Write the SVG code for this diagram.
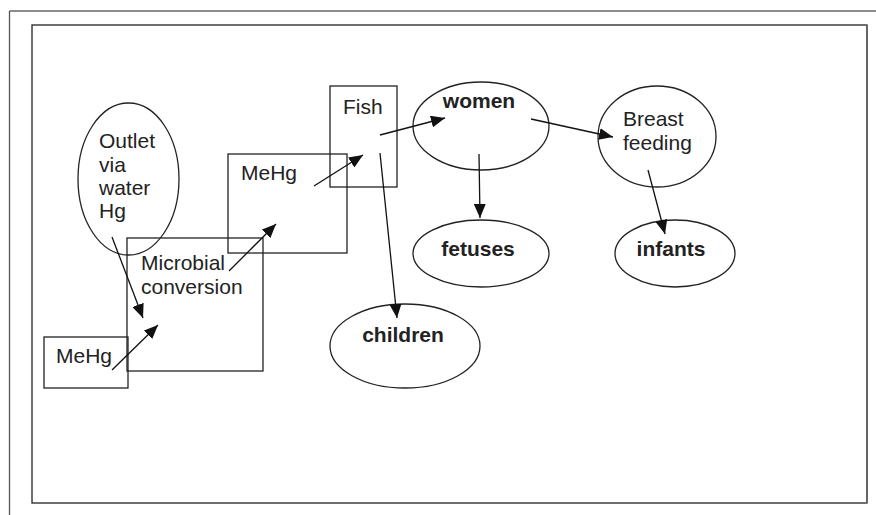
<svg xmlns="http://www.w3.org/2000/svg" width="876" height="515" viewBox="0 0 876 515">
  <defs>
    <marker id="arrow" viewBox="0 0 14 12" refX="14" refY="6" markerWidth="14" markerHeight="12" markerUnits="userSpaceOnUse" orient="auto">
      <path d="M0,0 L14,6 L0,12 Z" fill="#111"/>
    </marker>
  </defs>
  <style>
    .shape { fill: none; stroke: #222; stroke-width: 1.3; }
    .lbl { font-family: "Liberation Sans", Arial, sans-serif; font-size: 21px; fill: #222; }
    .bold { font-weight: bold; text-anchor: middle; }
    .conn line { stroke: #111; stroke-width: 1.3; marker-end: url(#arrow); }
  </style>
  <rect width="876" height="515" fill="#fff"/>

  <!-- page frame -->
  <g id="frame">
    <line x1="9.5" y1="11" x2="876" y2="11" stroke="#666" stroke-width="1.5"/>
    <line x1="9.5" y1="11" x2="9.5" y2="515" stroke="#555" stroke-width="1.3"/>
    <rect x="32" y="25" width="835" height="478" fill="none" stroke="#222" stroke-width="1.3"/>
    <line x1="867" y1="25" x2="867" y2="503" stroke="#666" stroke-width="2"/>
  </g>

  <g id="outlet">
    <ellipse class="shape" cx="128.5" cy="179" rx="50.5" ry="76"/>
    <text class="lbl" x="99" y="148">Outlet</text>
    <text class="lbl" x="99" y="172">via</text>
    <text class="lbl" x="99" y="195">water</text>
    <text class="lbl" x="99" y="218">Hg</text>
  </g>

  <g id="microbial">
    <rect class="shape" x="127" y="238" width="136" height="133"/>
    <text class="lbl" x="141" y="270">Microbial</text>
    <text class="lbl" x="141" y="294">conversion</text>
  </g>

  <g id="mehg-source">
    <rect class="shape" x="44" y="337" width="84" height="51" fill="#fff"/>
    <text class="lbl" x="56" y="363">MeHg</text>
  </g>

  <g id="mehg">
    <rect class="shape" x="228" y="154" width="119" height="99"/>
    <text class="lbl" x="241" y="180">MeHg</text>
  </g>

  <g id="fish">
    <rect class="shape" x="330" y="86" width="67" height="101"/>
    <text class="lbl" x="343" y="114">Fish</text>
  </g>

  <g id="women">
    <ellipse class="shape" cx="481" cy="126" rx="68" ry="44"/>
    <text class="lbl bold" x="479" y="108">women</text>
  </g>

  <g id="breast-feeding">
    <ellipse class="shape" cx="657" cy="136.5" rx="59" ry="50.5"/>
    <text class="lbl" x="623" y="126">Breast</text>
    <text class="lbl" x="623" y="150">feeding</text>
  </g>

  <g id="fetuses">
    <ellipse class="shape" cx="481" cy="253.5" rx="68" ry="33.5"/>
    <text class="lbl bold" x="478" y="256">fetuses</text>
  </g>

  <g id="infants">
    <ellipse class="shape" cx="675" cy="253.5" rx="60" ry="33.5"/>
    <text class="lbl bold" x="671" y="256">infants</text>
  </g>

  <g id="children">
    <ellipse class="shape" cx="405" cy="346" rx="75" ry="42"/>
    <text class="lbl bold" x="403" y="342">children</text>
  </g>

  <g id="connectors" class="conn">
    <line x1="112" y1="237" x2="143" y2="318"/>
    <line x1="112" y1="370" x2="158" y2="325"/>
    <line x1="229" y1="271" x2="276" y2="224"/>
    <line x1="314" y1="186" x2="363" y2="155"/>
    <line x1="380" y1="135" x2="445" y2="118"/>
    <line x1="380" y1="153" x2="397" y2="318"/>
    <line x1="531" y1="119" x2="613" y2="137"/>
    <line x1="479" y1="154" x2="480" y2="218"/>
    <line x1="648" y1="170" x2="665" y2="234"/>
  </g>
</svg>
